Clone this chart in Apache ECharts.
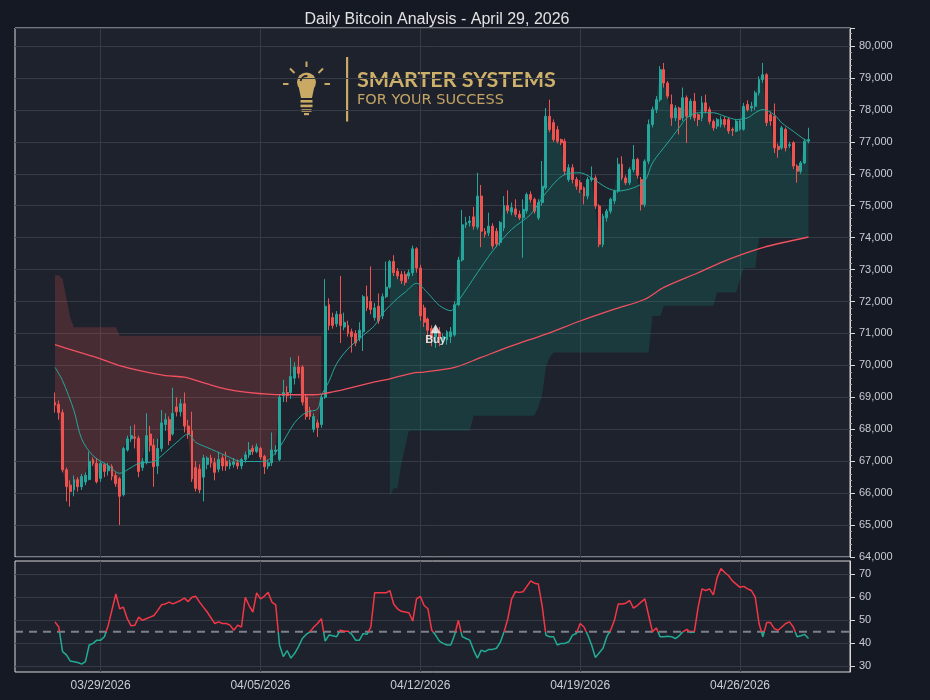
<!DOCTYPE html>
<html><head><meta charset="utf-8">
<script src="https://cdn.jsdelivr.net/npm/echarts@6/dist/echarts.min.js"></script>
<style>html,body{margin:0;padding:0;background:#151924;}#c{width:930px;height:700px;}</style>
</head><body><div id="c"></div>
<script>
// ---------- DATA ----------
const titleText = 'Daily Bitcoin Analysis - April 29, 2026';
const firstCandleUTC = Date.UTC(2026, 2, 27, 0, 0); // 4-hour candles
const candleHours = 4;
const dateTickIdx = [12, 54, 96, 138, 180]; // 03/29 ... 04/26 00:00
// [open, close, low, high]
const ohlc = [
[68840,68760,68520,69150],[68780,68520,68300,68900],[68520,66730,66650,68620],[66730,66210,65740,66800],[66250,66050,65580,66400],
[66100,66420,65900,66550],[66420,66200,66050,66500],[66200,66520,66100,66600],[66350,66560,66250,66650],[66430,67000,66400,67290],
[67050,66930,66850,67120],[66930,66360,66300,67100],[66460,66930,66350,67000],[66890,66680,66500,66950],[66700,66850,66550,66950],
[66830,66530,66400,66900],[66550,66300,66200,66650],[66450,65900,65000,66500],[65950,67400,65900,67450],[67350,67700,67300,67800],
[67700,67800,67600,68100],[67760,67720,67400,68150],[67720,66680,66500,67800],[66800,67000,66700,67100],[66960,67800,66900,68500],
[67850,67500,67300,68100],[67500,66830,66200,67700],[66850,67400,66600,67700],[67400,68200,67300,68600],[68150,68300,67950,68500],
[68300,67650,67500,68400],[67850,68500,67800,69300],[68700,68550,68400,69000],[68550,68800,68400,68950],[68800,68100,67900,69150],
[68100,67850,67700,68300],[67950,66450,66350,68550],[66800,66150,66050,67000],[66750,66100,66000,66900],[66500,67100,65740,67200],
[66900,67100,66750,67150],[67100,66950,66800,67200],[66950,66650,66400,67100],[66750,67050,66650,67300],[67100,66850,66700,67200],
[67000,66850,66700,67300],[66850,66950,66750,67050],[66900,66980,66800,67100],[66950,66850,66750,67050],[66850,67050,66750,67100],
[67050,67200,66950,67300],[67200,67350,67100,67600],[67400,67300,67200,67500],[67300,67450,67250,67550],[67400,67130,67050,67450],
[67150,66830,66600,67200],[66850,66950,66750,67050],[66950,67350,66850,67900],[67300,67350,67200,67500],[67050,69000,67000,69100],
[69050,69150,68850,69550],[69150,69050,68850,69350],[69150,69650,68950,70250],[69600,69950,69400,70100],[69950,69750,69600,70300],
[69950,68850,68750,70000],[69000,68400,68300,69100],[68600,68400,68300,68700],[68000,68400,67900,68500],[68200,68050,67760,68300],
[68150,69000,68050,69100],[69000,71850,68950,72700],[71900,71250,71100,72100],[71500,71250,71150,71650],[71300,71600,71200,71700],
[71600,71250,70700,72800],[71200,71350,71100,71650],[71250,71000,70900,71400],[71050,70900,70400,71150],[71000,70700,70600,71100],
[70850,71100,70750,71350],[71050,72150,70450,72200],[72150,71800,71700,72500],[72000,71750,71600,73100],[71500,71800,71400,71950],
[71850,71400,71300,72250],[71550,72150,71450,72250],[72150,72450,72100,73250],[72450,73250,72400,73300],[73250,72900,72800,73450],
[72950,72800,72700,73050],[72850,72650,72550,72950],[72850,72600,72500,72950],[72800,72900,72700,73000],[72900,73650,72800,73750],
[73650,73050,72900,73700],[73050,71550,71400,73150],[71800,71350,71200,71900],[71450,71100,70700,71500],[71150,70850,70600,71250],
[70900,71050,70550,71200],[71050,70850,70600,71200],[70850,70900,70650,71000],[70800,71050,70650,71100],[70900,71050,70700,71200],
[70950,71900,70900,72000],[71900,73300,71850,73400],[73300,74400,73250,74870],[74400,74470,74300,74650],[74470,74520,74350,74680],
[74650,74360,74250,74960],[74330,75300,74250,76030],[75300,74200,73700,75650],[74200,74100,74000,74300],[74150,74360,74050,74780],
[74360,73740,73650,74450],[74200,73800,73700,74300],[73850,74470,73750,74520],[74300,75000,74200,75300],[75000,74850,74750,75480],
[74800,74940,74700,75100],[74900,74730,74650,75200],[74730,74620,74550,74850],[74620,74880,73370,75200],[74840,75350,74750,75410],
[75350,75200,75100,75450],[75200,74830,74750,75250],[74620,75100,74550,75200],[75100,75610,75000,76400],[75560,77800,75500,78060],
[77800,77380,77300,78320],[77600,77070,77000,77700],[77380,77020,76950,77500],[77070,76970,76900,77100],[77020,76080,75950,77100],
[75820,76190,75750,76300],[76190,75820,75700,76300],[75820,75610,75500,75900],[75720,75510,75400,75800],[75560,75300,75040,75600],
[75300,75820,75200,75900],[75820,75870,75750,76230],[75870,74990,74900,75950],[74990,73790,73700,75050],[73790,74670,73700,74750],
[74620,74830,74500,74900],[74830,75200,74750,75250],[75150,75460,75050,75500],[75460,76300,75400,76500],[76300,75870,75800,76550],
[75870,75720,75650,75950],[75720,76130,75650,76200],[76130,76450,76050,76900],[76450,75950,75850,76500],[75820,75040,74850,75900],
[75040,76390,74950,76450],[76390,77540,76300,77700],[77540,78010,77450,78100],[78010,78320,77900,78430],[78320,79260,78250,79370],
[79260,78840,78700,79470],[78840,78430,78350,78900],[78170,77750,77500,78480],[77750,78060,77650,78150],[78060,77700,77230,78100],
[77750,78380,77650,78700],[78380,77800,76960,78450],[77800,78270,77700,78350],[78270,77750,77650,78530],[77850,77700,77490,77900],
[77750,78220,77650,78430],[78220,77960,77900,78480],[78010,77640,77550,78100],[77640,77440,77350,77700],[77490,77700,77400,77750],
[77540,77700,77450,77800],[77700,77540,77450,77800],[77700,77340,77250,77750],[77390,77360,77180,77450],[77330,77650,77300,77700],
[77390,77650,77350,77700],[77390,78110,77350,78220],[78170,78010,77950,78300],[78060,78110,77950,78250],[78110,78530,78000,78600],
[78530,78950,78450,79050],[78950,79100,78850,79470],[79100,77600,77490,79150],[77850,77650,77500,77950],[77800,76810,76650,78200],
[76860,76760,76500,76950],[76810,77440,76750,77500],[77390,76810,76700,77450],[76880,76910,76800,77000],[76970,76240,76150,77020],
[76240,76080,75720,76300],[76080,76340,76000,76400],[76340,77020,76300,77100],[77020,77070,76950,77440]
];
// bearish trailing stop (candles 0..70) and bullish trailing stop (candles 88..198)
const redStopFirst = 0;
const redStop = [72820,72820,72700,72100,71500,71190,71190,71190,71190,71190,71190,71190,71190,71190,71190,71190,71190,
70930,70930,70930,70930,70930,70930,70930,70930,70930,70930,70930,70930,70930,70930,70930,70930,70930,70930,70930,70930,
70930,70930,70930,70930,70930,70930,70930,70930,70930,70930,70930,70930,70930,70930,70930,70930,70930,70930,70930,70930,
70930,70930,70930,70930,70930,70930,70930,70930,70930,70930,70930,70930,70930,70930];
const greenStopFirst = 88;
const greenStop = [65900,66150,66150,66900,67450,
67950,67950,67950,67950,67950,67950,67950,67950,67950,67950,67950,67950,67950,67950,67950,67950,67950,
68420,68420,68420,68420,68420,68420,68420,68420,68420,68420,68420,68420,68420,68420,68420,68420,68420,
68700,69050,69950,70250,
70400,70400,70400,70400,70400,70400,70400,70400,70400,70400,70400,70400,70400,70400,70400,70400,70400,70400,70400,70400,70400,70400,70400,70400,70400,70400,
71550,71550,71550,
71870,71870,71870,71870,71870,71870,71870,71870,71870,71870,71870,71870,71870,71870,
72280,72280,72280,72280,72280,72280,
72700,
73050,73050,73050,73050,
74000,74000,74000,74000,74000,74000,74000,74000,74000,74000,74000,74000,74000,74000];
// moving averages: [candle index, value]
const fastMA = [[0,69940],[2,69520],[5,68580],[7,67700],[10,67170],[14,66860],[17,66620],[20,66800],[22,66930],[26,66990],
[28,67170],[32,67590],[35,67850],[37,67590],[40,67430],[45,67170],[49,66990],[54,66990],[56,67030],[59,67430],[63,68210],
[66,68530],[69,68630],[70,69050],[72,69500],[74,70050],[77,70520],[81,70940],[84,71250],[86,71615],[90,72100],[92,72290],
[95,72570],[98,72260],[101,71875],[104,71710],[106,72020],[111,72900],[115,73580],[120,74260],[125,74730],[129,75400],
[134,75980],[138,76030],[141,75870],[145,75560],[148,75460],[152,75560],[155,75770],[157,76340],[161,76970],[164,77440],
[166,77750],[169,77910],[173,77910],[176,77800],[179,77700],[182,77750],[184,77910],[186,78010],[189,77850],[191,77590],
[194,77330],[197,77070],[198,77040]];
const slowMA = [[0,70650],[5,70460],[12,70200],[17,69990],[22,69840],[29,69680],[34,69630],[40,69420],[45,69260],[50,69160],
[57,69090],[63,69080],[68,69080],[70,69100],[73,69170],[75,69220],[84,69480],[88,69580],[94,69760],[97,69790],[105,69935],
[112,70250],[120,70610],[129,70980],[138,71390],[147,71760],[155,72070],[160,72440],[169,72900],[177,73320],[186,73690],[198,74020]];
const buySignals = [[100, 71150]];
const oscillator = [[0,49.3],[1,47.1],[2,36.4],[3,35],[4,32.4],[6,31.7],[7,31],[8,32.1],[9,39.3],[10,40],[11,41.4],[12,41.4],
[13,42.9],[14,47.9],[16,61.4],[17,55],[18,55.7],[19,50.7],[20,47.6],[21,47.9],[22,51.4],[23,50],[25,51.4],[26,52.1],[27,54.3],
[28,56.7],[29,57.1],[30,57.9],[31,57.1],[33,58.6],[34,59.6],[35,58.1],[36,60],[37,60.4],[38,57.9],[39,55.7],[40,53.6],[42,48.6],
[43,49.3],[44,48.6],[45,48.6],[46,47.9],[47,45.7],[48,47.9],[49,47.1],[50,60],[51,56.4],[52,53.6],[53,61.9],[54,59.3],[55,60.4],
[56,62.1],[57,57.9],[58,56.7],[59,39.3],[60,34.3],[61,36.9],[62,33.6],[63,35.7],[64,38.6],[65,42.1],[66,43.9],[67,45],[68,47.1],
[69,48.6],[70,50.7],[71,41],[72,43.6],[73,43.3],[74,42.9],[75,45.7],[76,45.3],[77,45.3],[78,43.9],[79,41.4],[80,41.4],[81,44.3],
[82,43.9],[83,47.1],[84,61.9],[86,61.9],[87,61.9],[88,62.9],[89,57.1],[90,55],[91,53.9],[92,53.6],[93,53.3],[94,49.7],[95,59.3],
[96,60.4],[97,56.4],[98,55],[99,45.7],[100,43.6],[101,41],[102,40],[103,39.3],[104,39.3],[105,43.6],[106,50],[107,42.9],[108,42.1],
[109,41.4],[110,37.1],[111,33.6],[112,37.1],[113,36.4],[114,37.4],[115,37.4],[116,37.9],[117,40.4],[118,45],[119,50.7],[120,59.3],
[121,62.4],[122,62.1],[123,62.4],[124,64.7],[125,67.1],[126,66.1],[127,65.7],[128,56.4],[129,43.6],[130,42.9],[131,42.9],[132,39.3],
[133,40],[134,40],[135,40.7],[136,43.6],[137,44.3],[138,48.6],[139,47.1],[140,43.6],[141,39.3],[142,33.9],[144,37.9],[145,42.9],
[146,45.7],[147,50],[148,57.1],[149,57.1],[150,57.4],[151,58.6],[152,55.3],[153,56.4],[154,57.9],[155,59.3],[156,52.1],[157,45],
[158,46.7],[159,42.9],[160,42.9],[161,43.1],[162,42.9],[163,42.1],[164,43.3],[165,45],[166,46.1],[167,44.7],[168,45],[169,55.7],
[170,63.6],[171,62.9],[172,63.6],[173,61],[174,68.6],[175,72.4],[176,70.7],[177,69.3],[178,67.1],[179,65.7],[180,64.3],[181,64.7],
[182,63.6],[183,62.9],[184,60],[185,48.6],[186,42.9],[187,49],[188,49],[189,46.4],[190,45.7],[191,47.1],[192,48.6],[193,49.3],
[194,47.1],[195,42.9],[196,43.3],[197,43.9],[198,42.1]];
const oscLevel = 45;
const oscTicks = [30,40,50,60,70];

// ---------- CHART ----------
const UP = '#26a69a', DOWN = '#ef5350';
const GRIDC = '#363a45', LBL = '#c9ccd3', FRAME = '#d8d8d8';
const pad = n => String(n).padStart(2, '0');
const idxDate = i => { const d = new Date(firstCandleUTC + i * candleHours * 3600000);
  return pad(d.getUTCMonth() + 1) + '/' + pad(d.getUTCDate()) + '/' + d.getUTCFullYear(); };
const candleData = ohlc.map((c, i) => [i, c[0], c[1], c[2], c[3]]);
const X_MIN = -10.5, X_MAX = 208.9;
const OSC_MIN = 27.6, OSC_MAX = 75.7;
const OSC_TOP = 561, OSC_H = 111;

// trend regions: polygon between trailing stop and close
const regions = [
  {first: redStopFirst, stop: redStop, fill: 'rgba(239,83,80,0.2)'},
  {first: greenStopFirst, stop: greenStop, fill: 'rgba(8,153,129,0.2)'}
];

const chart = echarts.init(document.getElementById('c'), null, {renderer: 'canvas'});
const gold = '#c9a964';
const cut = (OSC_MAX - oscLevel) / (OSC_MAX - OSC_MIN);
const oscColor = {type: 'linear', x: 0, y: OSC_TOP, x2: 0, y2: OSC_TOP + OSC_H, global: true,
  colorStops: [{offset: 0, color: '#f23645'}, {offset: cut, color: '#f23645'},
               {offset: cut, color: '#22ab94'}, {offset: 1, color: '#22ab94'}]};
const option = {
  animation: false,
  backgroundColor: '#151924',
  title: {text: titleText, left: 432, top: 7, textAlign: 'center',
    textStyle: {color: '#e2e2e2', fontSize: 16, fontWeight: 'normal', fontFamily: 'Liberation Sans'}},
  grid: [
    {left: 15, right: 80, top: 28, height: 529, show: true, backgroundColor: '#1e222d', borderColor: FRAME, borderWidth: 1},
    {left: 15, right: 80, top: OSC_TOP, height: OSC_H, show: true, backgroundColor: '#1e222d', borderColor: FRAME, borderWidth: 1}
  ],
  xAxis: [0, 1].map(g => ({
    type: 'value', gridIndex: g, min: X_MIN, max: X_MAX,
    axisLine: {show: false, onZero: false},
    axisTick: {show: false, customValues: dateTickIdx},
    axisLabel: {show: g === 1, customValues: dateTickIdx, formatter: v => idxDate(v), color: LBL, fontSize: 12,
      fontFamily: 'Liberation Sans', margin: 8},
    splitLine: {show: true, lineStyle: {color: GRIDC, width: 1}}
  })),
  yAxis: [
    {type: 'value', gridIndex: 0, position: 'right', min: 64000, max: 80564, interval: 1000,
      axisLine: {show: true, onZero: false, lineStyle: {color: FRAME}},
      axisTick: {show: true, length: 5, lineStyle: {color: FRAME}},
      minorTick: {show: true, splitNumber: 5, length: 2, lineStyle: {color: '#aaaaaa'}},
      axisLabel: {color: LBL, fontSize: 11, fontFamily: 'Liberation Sans', margin: 9,
        formatter: v => (v % 1000 === 0 ? v.toLocaleString('en-US') : '')},
      splitLine: {show: true, lineStyle: {color: GRIDC}}},
    {type: 'value', gridIndex: 1, position: 'right', min: OSC_MIN, max: OSC_MAX,
      axisLine: {show: true, onZero: false, lineStyle: {color: FRAME}},
      axisTick: {show: true, length: 5, lineStyle: {color: FRAME}, customValues: oscTicks},
      axisLabel: {color: LBL, fontSize: 11, fontFamily: 'Liberation Sans', margin: 9, customValues: oscTicks},
      splitLine: {show: true, lineStyle: {color: GRIDC}}}
  ],
  graphic: [
    {type: 'group', silent: true, z: 1, children: [
      {type: 'circle', shape: {cx: 306.5, cy: 82, r: 9.5}, style: {fill: gold}},
      {type: 'arc', shape: {cx: 306.5, cy: 82, r: 6, startAngle: Math.PI * 1.05, endAngle: Math.PI * 1.55}, style: {stroke: '#1e222d', lineWidth: 1.8, fill: null}},
      {type: 'polygon', shape: {points: [[298.5, 86], [314.5, 86], [312, 98], [301, 98]]}, style: {fill: gold}},
      {type: 'rect', shape: {x: 300.5, y: 100, width: 12, height: 2.6}, style: {fill: gold}},
      {type: 'rect', shape: {x: 300.5, y: 104.6, width: 12, height: 2.6}, style: {fill: gold}},
      {type: 'rect', shape: {x: 301.5, y: 109.2, width: 10, height: 2.6}, style: {fill: gold}},
      {type: 'rect', shape: {x: 304, y: 113, width: 5, height: 2.2}, style: {fill: gold}},
      {type: 'line', shape: {x1: 306.5, y1: 61.5, x2: 306.5, y2: 67}, style: {stroke: gold, lineWidth: 2}},
      {type: 'line', shape: {x1: 283, y1: 84, x2: 288.5, y2: 84}, style: {stroke: gold, lineWidth: 2}},
      {type: 'line', shape: {x1: 324.5, y1: 84, x2: 330, y2: 84}, style: {stroke: gold, lineWidth: 2}},
      {type: 'line', shape: {x1: 290, y1: 68.5, x2: 294.5, y2: 73}, style: {stroke: gold, lineWidth: 2}},
      {type: 'line', shape: {x1: 323, y1: 68.5, x2: 318.5, y2: 73}, style: {stroke: gold, lineWidth: 2}},
      {type: 'rect', shape: {x: 346, y: 57, width: 2.2, height: 64.5}, style: {fill: gold}},
      {type: 'text', x: 357, y: 69, style: {text: 'SMARTER SYSTEMS', fill: '#cdb06c', font: 'bold 21.5px Lato'}},
      {type: 'text', x: 357, y: 92.5, style: {text: 'FOR YOUR SUCCESS', fill: '#c4a464', font: '14.5px "DejaVu Sans"'}}
    ]}
  ],
  series: [
    {type: 'custom', xAxisIndex: 0, yAxisIndex: 0, silent: true, z: 1, clip: true,
      data: regions.map((r, k) => [r.first, k]),
      encode: {x: 0},
      renderItem: (params, api) => {
        const r = regions[params.dataIndex];
        const top = r.stop.map((s, k) => api.coord([r.first + k, s]));
        const bottom = r.stop.map((s, k) => api.coord([r.first + k, ohlc[r.first + k][1]])).reverse();
        return {type: 'polygon', shape: {points: top.concat(bottom)}, style: {fill: r.fill}};
      }},
    {type: 'candlestick', xAxisIndex: 0, yAxisIndex: 0, data: candleData, encode: {x: 0, y: [1, 2, 3, 4]},
      barWidth: 2.4, itemStyle: {color: UP, color0: DOWN, borderColor: UP, borderColor0: DOWN, borderWidth: 1}, z: 3},
    {type: 'line', xAxisIndex: 0, yAxisIndex: 0, data: slowMA, smooth: 0.3, symbol: 'none',
      lineStyle: {color: '#f0505f', width: 1.3}, z: 4},
    {type: 'line', xAxisIndex: 0, yAxisIndex: 0, data: fastMA, smooth: 0.3, symbol: 'none',
      lineStyle: {color: '#26a69a', width: 1}, z: 4},
    {type: 'scatter', xAxisIndex: 0, yAxisIndex: 0, data: buySignals, symbol: 'triangle', symbolSize: [10, 9],
      itemStyle: {color: '#ffffff'}, z: 5,
      label: {show: true, position: 'bottom', distance: 1, formatter: 'Buy', color: '#ffffff', fontSize: 11,
        fontWeight: 'bold', fontFamily: 'Liberation Sans'}},
    {type: 'line', xAxisIndex: 1, yAxisIndex: 1, data: [[X_MIN, oscLevel], [X_MAX, oscLevel]], symbol: 'none', silent: true,
      lineStyle: {color: '#7d808a', type: [8, 6], width: 2}, z: 2},
    {type: 'line', xAxisIndex: 1, yAxisIndex: 1, data: oscillator, symbol: 'none', z: 4,
      lineStyle: {width: 1.5, color: oscColor}}
  ]
};
chart.setOption(option);
</script>
</body></html>
